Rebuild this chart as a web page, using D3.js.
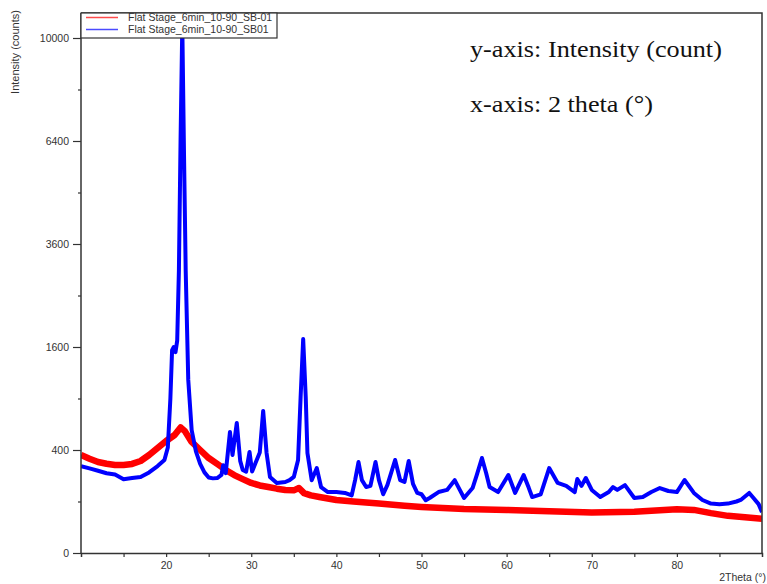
<!DOCTYPE html>
<html>
<head>
<meta charset="utf-8">
<script src="https://cdn.jsdelivr.net/npm/d3@7"></script>
<style>
  body { margin: 0; background: #fff; }
  svg { display: block; }
</style>
</head>
<body>
<svg id="chart" width="767" height="584"></svg>
<script>
// 2Theta (deg) and intensity (band centres)
const redX = [10, 11, 12, 13, 14, 15, 16, 17, 18, 19, 20, 21, 21.7, 22.2, 23, 24, 25, 26, 27, 28, 29, 30, 31, 32, 33, 34, 35, 35.6, 36.2, 37, 38, 40, 42, 45, 48, 50, 55, 60, 65, 70, 75, 80, 82, 84, 86, 88, 90];
const redY = [362, 335, 312, 300, 292, 292, 299, 319, 362, 416, 473, 525, 595, 560, 465, 400, 340, 299, 260, 229, 206, 185, 172, 164, 156, 150, 148, 159, 135, 125, 118, 106, 100, 92, 84, 80, 73, 70, 66, 62, 64, 72, 70, 60, 52, 48, 44];

const blueX = [10, 11, 12, 13, 14, 15, 16, 17, 18, 19, 19.8, 20.2, 20.5, 20.7, 20.9, 21.1, 21.3, 21.5, 21.7, 21.9, 22.1, 22.3, 22.6, 23, 23.5, 24, 24.5, 25, 25.5, 26, 26.5, 26.7, 27, 27.5, 27.8, 28.3, 28.7, 29, 29.4, 29.8, 30.1, 30.5, 31, 31.4, 31.8, 32.2, 33, 34, 34.5, 35, 35.5, 35.8, 36.1, 36.4, 36.6, 37.1, 37.7, 38.2, 39, 40, 41, 41.8, 42.2, 42.6, 43, 43.5, 44, 44.6, 45, 45.5, 46, 46.9, 47.5, 48, 48.5, 49, 49.5, 50, 50.5, 51, 52, 53, 53.9, 54.5, 55, 56, 56.5, 57.1, 57.6, 58, 59, 60.2, 61, 62, 62.6, 63, 64, 65, 66, 67, 68, 68.3, 68.8, 69.3, 70, 71, 72, 72.5, 73, 73.9, 75, 76, 77, 78, 79, 80, 80.9, 82, 83, 84, 85, 86, 87, 87.5, 88.5, 89, 89.6, 90];
const blueY = [285, 270, 255, 240, 232, 205, 212, 218, 245, 285, 326, 420, 900, 1550, 1600, 1520, 1700, 3000, 6500, 10500, 6000, 3000, 1130, 570, 390, 300, 245, 215, 210, 212, 230, 290, 240, 552, 362, 637, 320, 260, 250, 385, 250, 305, 380, 760, 377, 218, 185, 190, 200, 218, 326, 918, 1727, 918, 377, 200, 272, 164, 140, 140, 136, 125, 200, 312, 200, 164, 170, 312, 200, 130, 175, 326, 200, 190, 319, 180, 136, 130, 105, 115, 140, 150, 200, 150, 114, 159, 230, 340, 240, 164, 140, 229, 136, 229, 160, 118, 130, 272, 185, 170, 140, 206, 170, 212, 150, 118, 140, 164, 150, 174, 114, 118, 140, 159, 145, 140, 201, 136, 106, 92, 90, 92, 100, 106, 136, 114, 90, 63];

const seriesNames = ["Flat Stage_6min_10-90_SB-01", "Flat Stage_6min_10-90_SB01"];
const seriesColors = ["#ff0000", "#0000ff"];
const yTicks = [0, 400, 1600, 3600, 6400, 10000];
const yMinor = [100, 900, 2500, 4900, 8100];
const xTicks = [20, 30, 40, 50, 60, 70, 80];
const xMinor = [15, 25, 35, 45, 55, 65, 75, 85];

const svg = d3.select("#chart");
const pLeft = 81, pRight = 762, pBottom = 553, pTop = 13;
const sans = "'Liberation Sans', Arial, sans-serif";

const x = d3.scaleLinear().domain([10, 90]).range([pLeft, pRight]);
const y = d3.scaleSqrt().domain([0, 10000]).range([pBottom, 38]);

svg.append("clipPath").attr("id", "plotclip")
  .append("rect").attr("x", pLeft).attr("y", pTop)
  .attr("width", pRight - pLeft).attr("height", pBottom - pTop);

const line = d3.line().x(d => x(d[0])).y(d => y(d[1]));
const redData = redX.map((v, i) => [v, redY[i]]);
const blueData = blueX.map((v, i) => [v, blueY[i]]);

// thick strokes stand in for the noise band of the raw scans
const plot = svg.append("g").attr("clip-path", "url(#plotclip)");
plot.append("path").datum(redData)
  .attr("d", line).attr("fill", "none")
  .attr("stroke", seriesColors[0]).attr("stroke-width", 6.5)
  .attr("stroke-linejoin", "round");
plot.append("path").datum(blueData)
  .attr("d", line).attr("fill", "none")
  .attr("stroke", seriesColors[1]).attr("stroke-width", 4)
  .attr("stroke-linejoin", "round");

// axes
const axisColor = "#333";
const yAxis = svg.append("g").attr("transform", `translate(${pLeft},0)`)
  .call(d3.axisLeft(y).tickValues(yTicks).tickSize(8).tickPadding(4).tickFormat(d3.format("d")));
svg.append("g").attr("transform", `translate(${pLeft},0)`)
  .call(d3.axisLeft(y).tickValues(yMinor).tickSize(3).tickFormat(""))
  .select(".domain").remove();

svg.append("g").attr("transform", `translate(0,${pBottom})`)
  .call(d3.axisBottom(x).tickValues(xTicks).tickSize(4).tickPadding(5).tickFormat(d3.format("d")));
svg.append("g").attr("transform", `translate(0,${pBottom})`)
  .call(d3.axisBottom(x).tickValues(xMinor).tickSize(4).tickFormat(""))
  .select(".domain").remove();

svg.selectAll(".tick line").attr("stroke", axisColor).attr("stroke-width", 1.2);
svg.selectAll(".domain").attr("stroke", axisColor).attr("stroke-width", 1.5);
svg.selectAll(".tick text").attr("fill", axisColor)
  .style("font-family", sans).style("font-size", "10.5px");

yAxis.select(".domain").attr("d", `M0,${pTop}V${pBottom}`);

// frame top / right
svg.append("path")
  .attr("d", `M${pLeft},${pTop}H${pRight}V${pBottom}`)
  .attr("fill", "none").attr("stroke", axisColor).attr("stroke-width", 1.5);

// axis titles
svg.append("text")
  .attr("transform", "translate(19,52) rotate(-90)")
  .attr("text-anchor", "middle")
  .style("font-family", sans).style("font-size", "11px")
  .attr("fill", axisColor).text("Intensity (counts)");
svg.append("text")
  .attr("x", 766).attr("y", 581).attr("text-anchor", "end")
  .style("font-family", sans).style("font-size", "10.5px")
  .attr("fill", axisColor).text("2Theta (°)");

// legend
const legend = svg.append("g");
legend.append("rect").attr("x", pLeft).attr("y", pTop).attr("width", 196).attr("height", 25)
  .attr("fill", "#fff").attr("stroke", axisColor).attr("stroke-width", 1.2);
seriesNames.forEach((name, i) => {
  const ly = 17.5 + i * 12;
  legend.append("line").attr("x1", 86).attr("x2", 118).attr("y1", ly).attr("y2", ly)
    .attr("stroke", seriesColors[i]).attr("stroke-width", 1.5).attr("opacity", 0.7);
  legend.append("text").attr("x", 128).attr("y", ly + 3.5)
    .style("font-family", sans).style("font-size", "10.5px")
    .attr("fill", axisColor).text(name);
});

// annotation (the source text is slightly stretched sideways)
const notes = ["y-axis: Intensity (count)", "x-axis: 2 theta (°)"];
notes.forEach((t, i) => {
  svg.append("text")
    .attr("transform", `translate(470,${57 + i * 55}) scale(1.14,1)`)
    .style("font-family", "'Liberation Serif', 'Times New Roman', serif").style("font-size", "23px")
    .attr("fill", "#111").text(t);
});
</script>
</body>
</html>
